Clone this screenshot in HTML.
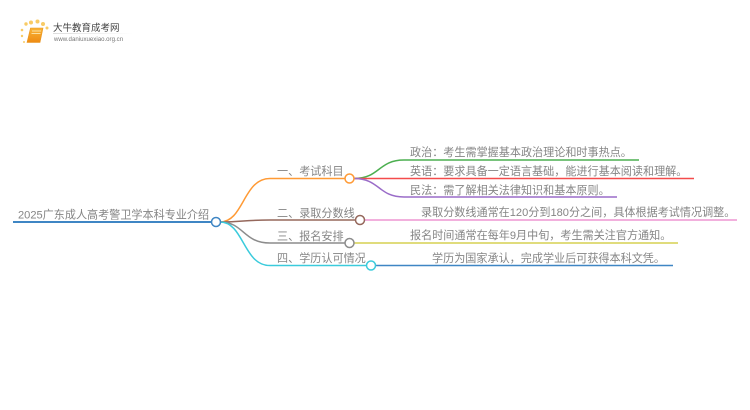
<!DOCTYPE html>
<html lang="zh">
<head>
<meta charset="utf-8">
<style>
html,body{margin:0;padding:0;background:#fff;width:750px;height:410px;overflow:hidden}
svg{display:block}
text{font-family:"Liberation Sans","Noto Sans CJK SC",sans-serif;font-size:11.1px;fill:#858585}
</style>
</head>
<body>
<svg width="750" height="410" viewBox="0 0 750 410" xmlns="http://www.w3.org/2000/svg">
<defs>
<linearGradient id="bk" x1="0" y1="0" x2="0" y2="1"><stop offset="0" stop-color="#f9b437"/><stop offset="1" stop-color="#ee8a12"/></linearGradient>
<linearGradient id="fd" x1="0" y1="0" x2="1" y2="0"><stop offset="0" stop-color="#ddd"/><stop offset="1" stop-color="#fff"/></linearGradient>
</defs>
<!-- logo -->
<g fill="#f8cb66">
<circle cx="26" cy="24" r="1.700"/><circle cx="31" cy="22.500" r="2"/><circle cx="37.500" cy="21.500" r="2"/>
<circle cx="43" cy="24" r="2"/><circle cx="47" cy="28" r="1.500"/>
<circle cx="22" cy="30" r="1.300"/><circle cx="22" cy="36" r="1.200"/><circle cx="24" cy="42" r="1"/>
</g>
<path d="M30.500 28h12.500l-3 14.500h-13z" fill="url(#bk)" stroke="#e8951f" stroke-width="0.600"/>
<path d="M32 31h9M31.500 33.500h9" stroke="#fbe0a0" stroke-width="0.900" fill="none"/>
<text x="53" y="31" style="font-size:9.500px;fill:#444">大牛教育成考网</text>
<rect x="53" y="33" width="80" height="1" fill="url(#fd)"/>
<text x="54" y="41" style="font-size:6.100px;fill:#777">www.daniuxuexiao.org.cn</text>
<!-- sub connectors -->
<g fill="none" stroke-width="1.500">
<path d="M354 178.500C380 178.500 378 160 404 160H639" stroke="#4caf50"/>
<path d="M349 178.500H694" stroke="#f44b4b"/>
<path d="M354 178.500C380 178.500 378 197 404 197H617" stroke="#9a6cc8"/>
<path d="M360 220H737" stroke="#ee95d2"/>
<path d="M349 243H678" stroke="#d6d050"/>
<path d="M371 265.500H673" stroke="#3f86c4"/>
<path d="M13 222H216" stroke="#3f86c4" stroke-width="2"/>
<path d="M220 222C244 222 243 178.500 270 178.500H349" stroke="#ff9a35"/>
<path d="M220 222C244 222 243 220 270 220H360" stroke="#95685c"/>
<path d="M220 222C244 222 243 243 270 243H349" stroke="#8c8c8c"/>
<path d="M220 222C244 222 243 265.500 270 265.500H371" stroke="#3bcbdc"/>
</g>
<g fill="#fff" stroke-width="1.500">
<circle cx="216" cy="222" r="4.500" stroke="#3f86c4"/>
<circle cx="349.500" cy="178.500" r="4.500" stroke="#ff9a35"/>
<circle cx="360" cy="220" r="4.500" stroke="#95685c"/>
<circle cx="349.500" cy="243" r="4.500" stroke="#8c8c8c"/>
<circle cx="371" cy="265.500" r="4.500" stroke="#3bcbdc"/>
</g>
<!-- labels -->
<text x="18" y="218.500">2025广东成人高考警卫学本科专业介绍</text>
<text x="277" y="175">一、考试科目</text>
<text x="277" y="217">二、录取分数线</text>
<text x="277" y="240">三、报名安排</text>
<text x="277" y="262">四、学历认可情况</text>
<text x="410" y="156">政治：考生需掌握基本政治理论和时事热点。</text>
<text x="410" y="175">英语：要求具备一定语言基础，能进行基本阅读和理解。</text>
<text x="410" y="194">民法：需了解相关法律知识和基本原则。</text>
<text x="421" y="216">录取分数线通常在120分到180分之间，具体根据考试情况调整。</text>
<text x="410" y="239">报名时间通常在每年9月中旬，考生需关注官方通知。</text>
<text x="432" y="262">学历为国家承认，完成学业后可获得本科文凭。</text>
</svg>
</body>
</html>
